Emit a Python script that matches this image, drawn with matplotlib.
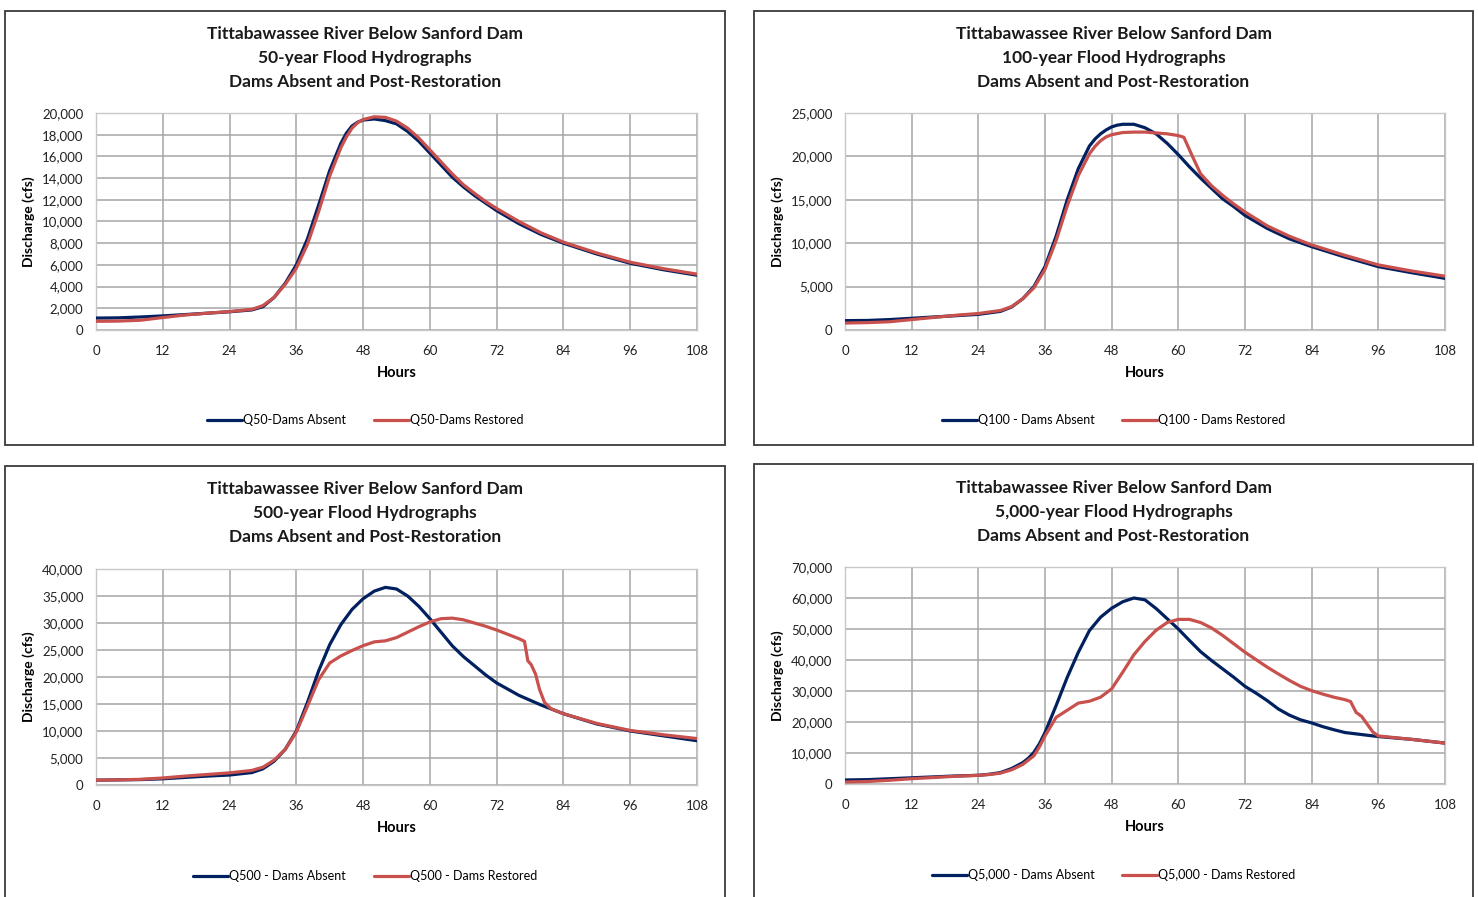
import matplotlib
matplotlib.use("Agg")
import matplotlib.pyplot as plt
from matplotlib.patches import Rectangle
from matplotlib.ticker import FuncFormatter, MultipleLocator
from matplotlib import font_manager

# ---------------- data ----------------
hours_q50_absent = [0, 4, 8, 12, 16, 20, 24, 28, 30, 32, 34, 36, 38, 40, 42, 44, 45, 46, 47, 48,
                    50, 52, 54, 56, 58, 60, 62, 64, 66, 68, 70, 72, 76, 80, 84, 90, 96, 102, 108]
q50_absent = [1100, 1120, 1200, 1300, 1420, 1550, 1680, 1850, 2150, 3000, 4300, 6000, 8400,
              11500, 14700, 17200, 18150, 18800, 19150, 19350, 19450, 19300, 19000, 18300, 17400,
              16300, 15200, 14100, 13200, 12400, 11700, 11000, 9800, 8800, 8000, 7000, 6150,
              5550, 5050]
hours_q50_restored = [0, 4, 8, 12, 16, 20, 24, 28, 30, 32, 34, 36, 38, 40, 42, 44, 45, 46, 47, 48,
                      50, 52, 54, 56, 58, 60, 62, 64, 66, 68, 70, 72, 76, 80, 84, 90, 96, 102, 108]
q50_restored = [800, 820, 900, 1150, 1380, 1550, 1700, 1900, 2250, 3000, 4200, 5700, 7900,
                10900, 14200, 16800, 17800, 18600, 19100, 19400, 19650, 19600, 19250, 18600,
                17700, 16600, 15500, 14400, 13400, 12600, 11850, 11200, 10000, 8950, 8100, 7100,
                6250, 5650, 5150]

hours_q100_absent = [0, 4, 8, 12, 16, 20, 24, 28, 30, 32, 34, 36, 38, 40, 42, 44, 45, 46, 47, 48,
                     49, 50, 52, 54, 56, 58, 60, 62, 64, 66, 68, 70, 72, 76, 80, 84, 90, 96, 102,
                     108]
q100_absent = [1080, 1100, 1200, 1350, 1500, 1650, 1800, 2150, 2650, 3600, 5000, 7300, 10800,
               15000, 18600, 21200, 22000, 22600, 23050, 23400, 23600, 23700, 23700, 23300,
               22600, 21500, 20200, 18800, 17500, 16300, 15100, 14200, 13200, 11700, 10500, 9600,
               8400, 7300, 6600, 5950]
hours_q100_restored = [0, 4, 8, 12, 16, 20, 24, 28, 30, 32, 34, 36, 38, 40, 42, 44, 45, 46, 47,
                       48, 50, 52, 54, 56, 58, 60, 61, 62.4, 64, 66, 68, 70, 72, 76, 80, 84, 90,
                       96, 102, 108]
q100_restored = [800, 850, 950, 1200, 1450, 1700, 1900, 2250, 2700, 3600, 4850, 7000, 10300,
                 14300, 17800, 20300, 21150, 21800, 22250, 22500, 22750, 22800, 22800, 22700,
                 22600, 22400, 22200, 20200, 18000, 16600, 15500, 14500, 13600, 12000, 10800,
                 9800, 8600, 7500, 6800, 6200]

hours_q500_absent = [0, 4, 8, 12, 16, 20, 24, 28, 30, 32, 34, 36, 38, 40, 42, 44, 46, 48, 50, 52,
                     54, 56, 58, 60, 62, 64, 66, 68, 70, 72, 76, 80, 84, 90, 96, 102, 108]
q500_absent = [900, 950, 1000, 1150, 1400, 1650, 1850, 2300, 3000, 4400, 6600, 10000, 15300,
               21100, 26000, 29700, 32500, 34500, 35900, 36600, 36300, 35000, 33100, 30800,
               28300, 25800, 23800, 22100, 20400, 18900, 16600, 14800, 13200, 11300, 10000,
               9100, 8200]
hours_q500_restored = [0, 4, 8, 12, 16, 20, 24, 28, 30, 32, 34, 36, 38, 40, 42, 44, 46, 48, 50,
                       52, 54, 56, 58, 60, 62, 64, 66, 68, 70, 72, 74, 76, 77, 77.6, 78.2, 79,
                       79.7, 80.6, 81.8, 84, 90, 96, 102, 108]
q500_restored = [900, 950, 1050, 1300, 1650, 1950, 2250, 2700, 3300, 4600, 6600, 9800, 14600,
                 19500, 22600, 23900, 24900, 25800, 26500, 26700, 27300, 28300, 29300, 30200,
                 30800, 30900, 30600, 30000, 29400, 28700, 27900, 27100, 26600, 23000, 22300,
                 20500, 17700, 15300, 14100, 13200, 11400, 10100, 9300, 8600]

hours_q5000_absent = [0, 4, 8, 12, 16, 20, 24, 26, 28, 30, 32, 33, 34, 35, 36, 38, 40, 42, 44,
                      46, 48, 50, 52, 54, 56, 58, 60, 62, 64, 66, 68, 70, 72, 74, 76, 78, 80, 82,
                      84, 86, 88, 90, 96, 102, 108]
q5000_absent = [1300, 1400, 1700, 2000, 2300, 2600, 2800, 3150, 3700, 5000, 6900, 8300, 10200,
                13000, 16600, 25300, 34400, 42500, 49500, 53800, 56700, 58800, 60000, 59400,
                56600, 53300, 50000, 46300, 42700, 39800, 37100, 34400, 31500, 29300, 26900,
                24200, 22200, 20700, 19700, 18500, 17500, 16600, 15300, 14400, 13200]
hours_q5000_restored = [0, 4, 8, 12, 16, 20, 24, 26, 28, 30, 32, 34, 35, 36, 38, 40, 42, 44, 46,
                        48, 50, 52, 54, 56, 58, 60, 62, 64, 66, 68, 70, 72, 74, 76, 78, 80, 82,
                        84, 86, 88, 90, 91, 92, 93, 94, 95, 96, 102, 108]
q5000_restored = [650, 800, 1200, 1700, 2100, 2500, 2800, 3050, 3500, 4600, 6300, 9100, 12000,
                  15500, 21500, 23800, 26100, 26700, 28000, 30700, 36100, 41700, 46000, 49600,
                  52100, 53100, 53100, 52100, 50300, 47900, 45200, 42500, 40100, 37700, 35500,
                  33400, 31500, 30100, 29000, 28000, 27200, 26600, 23100, 21800, 19300, 16800,
                  15500, 14400, 13200]

titles = [
    "Tittabawassee River Below Sanford Dam\n50-year Flood Hydrographs\nDams Absent and Post-Restoration",
    "Tittabawassee River Below Sanford Dam\n100-year Flood Hydrographs\nDams Absent and Post-Restoration",
    "Tittabawassee River Below Sanford Dam\n500-year Flood Hydrographs\nDams Absent and Post-Restoration",
    "Tittabawassee River Below Sanford Dam\n5,000-year Flood Hydrographs\nDams Absent and Post-Restoration",
]
legend_absent = ["Q50-Dams Absent", "Q100 - Dams Absent", "Q500 - Dams Absent", "Q5,000 - Dams Absent"]
legend_restored = ["Q50-Dams Restored", "Q100 - Dams Restored", "Q500 - Dams Restored",
                   "Q5,000 - Dams Restored"]
y_max = [20000, 25000, 40000, 70000]
y_step = [2000, 5000, 5000, 10000]
x_ticks = [0, 12, 24, 36, 48, 60, 72, 84, 96, 108]

series = [
    (hours_q50_absent, q50_absent, hours_q50_restored, q50_restored),
    (hours_q100_absent, q100_absent, hours_q100_restored, q100_restored),
    (hours_q500_absent, q500_absent, hours_q500_restored, q500_restored),
    (hours_q5000_absent, q5000_absent, hours_q5000_restored, q5000_restored),
]

# ---------------- style ----------------
avail = {f.name for f in font_manager.fontManager.ttflist}
fam = [f for f in ["Liberation Sans Narrow", "Lato", "Open Sans", "DejaVu Sans"] if f in avail]
plt.rcParams["font.family"] = fam

W, H = 1478, 897
fig = plt.figure(figsize=(W / 100, H / 100), dpi=100)
fig.patch.set_facecolor("white")

BLUE = "#002060"
RED = "#C8504D"
GRID = "#a6a6a6"

# pixel boxes: (axes left, axes right, axes top, axes bottom), (panel box l, r, t, b)
axes_px = [(96, 697, 113, 330), (845, 1445, 113, 330), (96, 697, 569, 785), (845, 1445, 567, 784)]
box_px = [(5, 725, 11, 445), (754, 1473, 11, 445), (5, 725, 466, 905), (754, 1473, 464, 905)]
title_top = [26, 26, 481, 480]
legend_y = [420, 420, 876, 875]

fmt = FuncFormatter(lambda v, p: f"{int(v):,}")

for i in range(4):
    al, ar, at, ab = axes_px[i]
    bl, br, bt, bb = box_px[i]
    # panel frame
    fig.add_artist(Rectangle((bl / W, 1 - bb / H), (br - bl) / W, (bb - bt) / H,
                             transform=fig.transFigure, fill=False, edgecolor="#3a3a3a",
                             linewidth=1.3, zorder=0))
    ax = fig.add_axes([al / W, 1 - ab / H, (ar - al) / W, (ab - at) / H])
    ha, ya, hr, yr = series[i]
    ax.plot(ha, ya, color=BLUE, lw=2.3, solid_capstyle="round", solid_joinstyle="round",
            zorder=3, label=legend_absent[i])
    ax.plot(hr, yr, color=RED, lw=2.3, solid_capstyle="round", solid_joinstyle="round",
            zorder=4, label=legend_restored[i])
    ax.set_xlim(0, 108)
    ax.set_ylim(0, y_max[i])
    ax.set_xticks(x_ticks)
    ax.yaxis.set_major_locator(MultipleLocator(y_step[i]))
    ax.yaxis.set_major_formatter(fmt)
    ax.grid(True, color=GRID, lw=1.1)
    ax.set_axisbelow(True)
    for s in ax.spines.values():
        s.set_color("#c8c8c8")
        s.set_linewidth(1.0)
    ax.tick_params(length=0, labelsize=9.5, colors="#222222", pad=9)
    ax.tick_params(axis="x", pad=11)
    ax.set_xlabel("Hours", fontsize=10.5, fontweight="bold")
    ax.set_ylabel("Discharge (cfs)", fontsize=10, fontweight="bold")
    ax.yaxis.set_label_coords((bl + 30 - al) / (ar - al), 0.5)
    ax.xaxis.set_label_coords(0.5, -36 / (ab - at))
    # title
    cx = (bl + br) / 2 / W
    fig.text(cx, 1 - title_top[i] / H, titles[i], ha="center", va="top",
             fontsize=12.5, fontweight="bold", linespacing=1.62, color="#1a1a1a")
    # legend
    ax.legend(loc="center", bbox_to_anchor=(cx, 1 - legend_y[i] / H),
              bbox_transform=fig.transFigure, ncol=2, frameon=False, fontsize=9,
              handlelength=2.8, handletextpad=0.1, columnspacing=2.2)

fig.savefig("out.png", dpi=100, facecolor="white")
